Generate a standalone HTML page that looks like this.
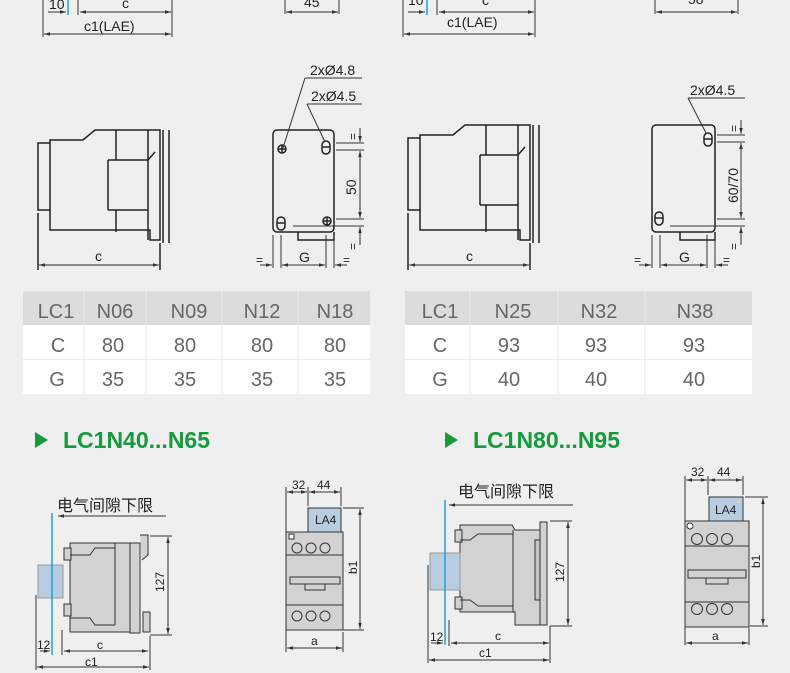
<!DOCTYPE html>
<html><head><meta charset="utf-8"><style>
html,body{margin:0;padding:0;background:#efefef;}
svg{display:block}
.t{font-family:"Liberation Sans","Noto Sans CJK SC",sans-serif;fill:#222}
.tb{font-family:"Liberation Sans",sans-serif;fill:#666;font-size:20px}
.g{font-family:"Liberation Sans",sans-serif;font-weight:bold;fill:#159a3c;font-size:23px}
</style></head><body>
<svg width="790" height="673" viewBox="0 0 790 673" xmlns="http://www.w3.org/2000/svg">
<defs>
<marker id="a" viewBox="0 0 10 10" refX="10" refY="5" markerWidth="6" markerHeight="6" orient="auto-start-reverse"><path d="M0,2 L10,5 L0,8 z" fill="#333"/></marker>
</defs>
<rect width="790" height="673" fill="#efefef"/>
<g stroke="#333" stroke-width="1" fill="none">
<line x1="43" y1="0" x2="43" y2="37"/><line x1="78" y1="0" x2="78" y2="15"/><line x1="172" y1="0" x2="172" y2="37"/>
<line x1="48" y1="12" x2="66" y2="12" marker-end="url(#a)"/>
<line x1="80" y1="12" x2="171" y2="12" marker-start="url(#a)" marker-end="url(#a)"/>
<line x1="44" y1="34" x2="171" y2="34" marker-start="url(#a)" marker-end="url(#a)"/>
<line x1="285" y1="0" x2="285" y2="14"/><line x1="339" y1="0" x2="339" y2="14"/>
<line x1="286" y1="12" x2="338" y2="12" marker-start="url(#a)" marker-end="url(#a)"/>
<line x1="403" y1="0" x2="403" y2="37"/><line x1="437" y1="0" x2="437" y2="15"/><line x1="535" y1="0" x2="535" y2="37"/>
<line x1="408" y1="12" x2="425" y2="12" marker-end="url(#a)"/>
<line x1="439" y1="12" x2="534" y2="12" marker-start="url(#a)" marker-end="url(#a)"/>
<line x1="404" y1="34" x2="534" y2="34" marker-start="url(#a)" marker-end="url(#a)"/>
<line x1="655" y1="0" x2="655" y2="14"/><line x1="738" y1="0" x2="738" y2="14"/>
<line x1="656" y1="12" x2="737" y2="12" marker-start="url(#a)" marker-end="url(#a)"/>
</g>
<line x1="68" y1="0" x2="68" y2="15" stroke="#1aa3e0" stroke-width="1.5"/>
<line x1="427" y1="0" x2="427" y2="15" stroke="#1aa3e0" stroke-width="1.5"/>
<g class="t" font-size="14">
<text x="49" y="9">10</text><text x="122" y="8">c</text><text x="84" y="31">c1(LAE)</text><text x="304" y="7">45</text>
<text x="408" y="5">10</text><text x="482" y="5">c</text><text x="447" y="27">c1(LAE)</text><text x="688" y="4">58</text>
</g>

<g stroke="#222" stroke-width="1.5" fill="none">
<path d="M50,140 H83 L95,130 H160 V240 H150 V230 H50 V210 H38 V143 H50 Z"/>
<line x1="50" y1="143" x2="50" y2="210"/>
<line x1="116" y1="130" x2="116" y2="160"/>
<path d="M108,160 H148 L155,152"/><line x1="108" y1="160" x2="108" y2="210"/>
<path d="M108,210 H148"/><line x1="116" y1="210" x2="116" y2="232"/>
<line x1="148" y1="130" x2="148" y2="240"/>
<line x1="163" y1="130" x2="163" y2="243"/><line x1="169" y1="130" x2="169" y2="243"/>
<line x1="38" y1="213" x2="38" y2="270"/><line x1="160" y1="243" x2="160" y2="270"/>
<line x1="39" y1="265" x2="159" y2="265" stroke-width="1" marker-start="url(#a)" marker-end="url(#a)"/>
<rect x="273" y="130" width="61" height="102" rx="4"/>
<path d="M298,232 V240 H334 V232"/>
<circle cx="282" cy="149" r="4"/><line x1="278" y1="149" x2="286" y2="149"/><line x1="282" y1="145" x2="282" y2="153"/>
<rect x="322" y="141" width="8" height="13" rx="4"/><line x1="322" y1="147" x2="330" y2="147"/>
<rect x="277" y="217" width="8" height="13" rx="4"/><line x1="277" y1="223" x2="285" y2="223"/>
<circle cx="327" cy="221" r="4"/><line x1="323" y1="221" x2="331" y2="221"/><line x1="327" y1="217" x2="327" y2="225"/>
<g stroke-width="1" stroke="#333">
<line x1="305" y1="78" x2="362" y2="78"/><line x1="305" y1="78" x2="283" y2="148"/>
<line x1="307" y1="104" x2="362" y2="104"/><line x1="307" y1="104" x2="325" y2="142"/>
<line x1="336" y1="143" x2="364" y2="143"/><line x1="336" y1="150" x2="364" y2="150"/>
<line x1="293" y1="226" x2="364" y2="226"/><line x1="336" y1="219" x2="364" y2="219"/>
<line x1="360" y1="151" x2="360" y2="218" marker-start="url(#a)" marker-end="url(#a)"/>
<line x1="360" y1="128" x2="360" y2="142" marker-end="url(#a)"/><line x1="360" y1="245" x2="360" y2="227" marker-end="url(#a)"/>
<line x1="273" y1="235" x2="273" y2="268"/><line x1="281" y1="235" x2="281" y2="268"/>
<line x1="326" y1="235" x2="326" y2="268"/><line x1="334" y1="235" x2="334" y2="268"/>
<line x1="260" y1="265" x2="272" y2="265" marker-end="url(#a)"/>
<line x1="282" y1="265" x2="325" y2="265" marker-start="url(#a)" marker-end="url(#a)"/>
<line x1="347" y1="265" x2="335" y2="265" marker-end="url(#a)"/>
</g>
</g>
<g class="t">
<text x="95" y="261" font-size="14">c</text>
<text x="310" y="75" font-size="14">2xØ4.8</text><text x="311" y="101" font-size="14">2xØ4.5</text>
<text x="299" y="262" font-size="14">G</text>
<text x="256" y="264" font-size="12">=</text><text x="343" y="264" font-size="12">=</text>
<text font-size="14" transform="translate(356,195) rotate(-90)">50</text>
<text font-size="12" transform="translate(357,140) rotate(-90)">=</text>
<text font-size="12" transform="translate(357,250) rotate(-90)">=</text>
</g>

<g stroke="#222" stroke-width="1.5" fill="none">
<path d="M420,135 H453 L465,125 H530 V240 H520 V230 H420 V210 H408 V138 H420 Z"/>
<line x1="420" y1="138" x2="420" y2="210"/>
<line x1="486" y1="125" x2="486" y2="155"/>
<path d="M480,155 H518 L525,147"/><line x1="480" y1="155" x2="480" y2="205"/>
<path d="M480,205 H518"/><line x1="486" y1="205" x2="486" y2="232"/>
<line x1="518" y1="125" x2="518" y2="240"/>
<line x1="533" y1="125" x2="533" y2="243"/><line x1="539" y1="125" x2="539" y2="243"/>
<line x1="408" y1="213" x2="408" y2="270"/><line x1="530" y1="243" x2="530" y2="270"/>
<line x1="409" y1="265" x2="529" y2="265" stroke-width="1" marker-start="url(#a)" marker-end="url(#a)"/>
<rect x="652" y="125" width="63" height="107" rx="4"/>
<path d="M680,232 V240 H715 V232"/>
<rect x="704" y="133" width="8" height="13" rx="4"/><line x1="704" y1="139" x2="712" y2="139"/>
<rect x="655" y="212" width="8" height="13" rx="4"/><line x1="655" y1="218" x2="663" y2="218"/>
<g stroke-width="1" stroke="#333">
<line x1="688" y1="98" x2="745" y2="98"/><line x1="688" y1="98" x2="706" y2="133"/>
<line x1="717" y1="135" x2="745" y2="135"/><line x1="717" y1="142" x2="745" y2="142"/>
<line x1="670" y1="226" x2="745" y2="226"/><line x1="717" y1="219" x2="745" y2="219"/>
<line x1="741" y1="143" x2="741" y2="218" marker-start="url(#a)" marker-end="url(#a)"/>
<line x1="741" y1="120" x2="741" y2="134" marker-end="url(#a)"/><line x1="741" y1="245" x2="741" y2="227" marker-end="url(#a)"/>
<line x1="652" y1="235" x2="652" y2="268"/><line x1="660" y1="235" x2="660" y2="268"/>
<line x1="707" y1="235" x2="707" y2="268"/><line x1="715" y1="235" x2="715" y2="268"/>
<line x1="639" y1="265" x2="651" y2="265" marker-end="url(#a)"/>
<line x1="661" y1="265" x2="706" y2="265" marker-start="url(#a)" marker-end="url(#a)"/>
<line x1="728" y1="265" x2="716" y2="265" marker-end="url(#a)"/>
</g>
</g>
<g class="t">
<text x="466" y="261" font-size="14">c</text>
<text x="690" y="95" font-size="14">2xØ4.5</text>
<text x="679" y="262" font-size="14">G</text>
<text x="634" y="264" font-size="12">=</text><text x="723" y="264" font-size="12">=</text>
<text font-size="14" transform="translate(738,203) rotate(-90)">60/70</text>
<text font-size="12" transform="translate(738,132) rotate(-90)">=</text>
<text font-size="12" transform="translate(738,250) rotate(-90)">=</text>
</g>

<rect x="23" y="291" width="347" height="34" fill="#dcdcdc"/>
<rect x="23" y="325" width="347" height="69" fill="#fff"/>
<g stroke="#eaeaea" stroke-width="1">
<line x1="84" y1="291" x2="84" y2="394"/><line x1="146" y1="291" x2="146" y2="394"/><line x1="222" y1="291" x2="222" y2="394"/><line x1="298" y1="291" x2="298" y2="394"/>
<line x1="23" y1="359.5" x2="370" y2="359.5"/>
</g>
<g class="tb" text-anchor="middle">
<text x="56" y="318">LC1</text><text x="115" y="318">N06</text><text x="189" y="318">N09</text><text x="262" y="318">N12</text><text x="335" y="318">N18</text>
<text x="58" y="352">C</text><text x="113" y="352">80</text><text x="185" y="352">80</text><text x="262" y="352">80</text><text x="335" y="352">80</text>
<text x="57" y="386">G</text><text x="113" y="386">35</text><text x="185" y="386">35</text><text x="262" y="386">35</text><text x="335" y="386">35</text>
</g>
<rect x="405" y="291" width="347" height="34" fill="#dcdcdc"/>
<rect x="405" y="325" width="347" height="69" fill="#fff"/>
<g stroke="#eaeaea" stroke-width="1">
<line x1="470" y1="291" x2="470" y2="394"/><line x1="558" y1="291" x2="558" y2="394"/><line x1="645" y1="291" x2="645" y2="394"/>
<line x1="405" y1="359.5" x2="752" y2="359.5"/>
</g>
<g class="tb" text-anchor="middle">
<text x="440" y="318">LC1</text><text x="513" y="318">N25</text><text x="599" y="318">N32</text><text x="695" y="318">N38</text>
<text x="440" y="352">C</text><text x="509" y="352">93</text><text x="596" y="352">93</text><text x="694" y="352">93</text>
<text x="440" y="386">G</text><text x="509" y="386">40</text><text x="596" y="386">40</text><text x="694" y="386">40</text>
</g>

<path d="M35,432 L48,440 L35,448 Z" fill="#159a3c"/>
<text class="g" x="63" y="448">LC1N40...N65</text>
<path d="M445,432 L458,440 L445,448 Z" fill="#159a3c"/>
<text class="g" x="473" y="448">LC1N80...N95</text>

<text class="t" x="57" y="511" font-size="16" fill="#444">电气间隙下限</text>
<line x1="166" y1="516" x2="58" y2="516" stroke="#333" marker-end="url(#a)"/>
<g stroke="#333" stroke-width="1">
<path d="M70,543 H130 V632 H70 Z" fill="#d2d2d2"/>
<rect x="64" y="548" width="7" height="12" fill="#d2d2d2"/><rect x="64" y="604" width="7" height="12" fill="#d2d2d2"/>
<line x1="115" y1="543" x2="115" y2="625"/>
<path d="M70,555 H90 L95,548 H115" fill="none"/><path d="M70,618 H90 L95,625 H115" fill="none"/>
<rect x="130" y="543" width="10" height="90" fill="#d2d2d2"/>
<path d="M140,535 H148 V555 L142,560" fill="#d2d2d2"/><rect x="143" y="612" width="7" height="20" fill="#d2d2d2"/>
<rect x="38" y="565" width="25" height="33" fill="#b8cde0" stroke="#999"/>
<line x1="150" y1="536" x2="172" y2="536"/><line x1="150" y1="635" x2="172" y2="635"/>
<line x1="168" y1="537" x2="168" y2="634" marker-start="url(#a)" marker-end="url(#a)"/>
<line x1="36" y1="595" x2="36" y2="670"/><line x1="62" y1="630" x2="62" y2="655"/><line x1="150" y1="636" x2="150" y2="670"/>
<line x1="40" y1="651" x2="50" y2="651" marker-end="url(#a)"/>
<line x1="64" y1="651" x2="148" y2="651" marker-start="url(#a)" marker-end="url(#a)"/>
<line x1="37" y1="667" x2="149" y2="667" marker-start="url(#a)" marker-end="url(#a)"/>
<rect x="308" y="508" width="33" height="24" fill="#b8cde0"/>
<rect x="286" y="532" width="57" height="98" fill="#d2d2d2"/>
<line x1="286" y1="555" x2="343" y2="555"/><line x1="286" y1="605" x2="343" y2="605"/>
<rect x="290" y="577" width="50" height="7" fill="#d2d2d2"/><rect x="305" y="584" width="20" height="6" fill="#d2d2d2"/>
<circle cx="297" cy="548" r="5" fill="#d2d2d2"/><circle cx="311" cy="548" r="5" fill="#d2d2d2"/><circle cx="325" cy="548" r="5" fill="#d2d2d2"/>
<circle cx="297" cy="616" r="5" fill="#d2d2d2"/><circle cx="311" cy="616" r="5" fill="#d2d2d2"/><circle cx="325" cy="616" r="5" fill="#d2d2d2"/>
<rect x="289" y="534" width="5" height="5" fill="#fff"/>
<line x1="286" y1="487" x2="286" y2="652"/><line x1="308" y1="487" x2="308" y2="506"/><line x1="341" y1="487" x2="341" y2="506"/><line x1="343" y1="632" x2="343" y2="652"/>
<line x1="287" y1="492" x2="307" y2="492" marker-start="url(#a)" marker-end="url(#a)"/>
<line x1="309" y1="492" x2="340" y2="492" marker-start="url(#a)" marker-end="url(#a)"/>
<line x1="287" y1="648" x2="342" y2="648" marker-start="url(#a)" marker-end="url(#a)"/>
<line x1="343" y1="508" x2="364" y2="508"/><line x1="343" y1="630" x2="364" y2="630"/>
<line x1="360" y1="509" x2="360" y2="629" marker-start="url(#a)" marker-end="url(#a)"/>
</g>
<line x1="52" y1="513" x2="52" y2="655" stroke="#1aa3e0" stroke-width="1.5"/>
<g class="t" font-size="12">
<text x="37" y="649">12</text><text x="97" y="649">c</text><text x="85" y="666">c1</text>
<text x="292" y="489">32</text><text x="317" y="489">44</text><text x="315" y="524">LA4</text><text x="311" y="645">a</text>
<text transform="translate(164,592) rotate(-90)">127</text>
<text transform="translate(357,574) rotate(-90)">b1</text>
</g>

<text class="t" x="458" y="497" font-size="16" fill="#444">电气间隙下限</text>
<line x1="573" y1="505" x2="449" y2="505" stroke="#333" marker-end="url(#a)"/>
<g stroke="#333" stroke-width="1">
<path d="M460,525 H512 L515,530 H540 V625 H515 V612 H460 Z" fill="#d2d2d2"/>
<rect x="455" y="530" width="7" height="12" fill="#d2d2d2"/><rect x="455" y="597" width="7" height="12" fill="#d2d2d2"/>
<line x1="513" y1="530" x2="513" y2="612"/>
<path d="M460,540 H470 L478,534 H513" fill="none"/><path d="M460,600 H470 L478,606 H513" fill="none"/>
<rect x="535" y="540" width="5" height="60" fill="#c5c5c5"/>
<rect x="540" y="522" width="7" height="103" fill="#d2d2d2"/>
<rect x="430" y="553" width="30" height="37" fill="#b8cde0" stroke="#999"/>
<line x1="550" y1="521" x2="572" y2="521"/><line x1="550" y1="626" x2="572" y2="626"/>
<line x1="568" y1="522" x2="568" y2="625" marker-start="url(#a)" marker-end="url(#a)"/>
<line x1="428" y1="565" x2="428" y2="663"/><line x1="449" y1="620" x2="449" y2="646"/><line x1="550" y1="626" x2="550" y2="663"/>
<line x1="431" y1="643" x2="443" y2="643" marker-end="url(#a)"/>
<line x1="451" y1="643" x2="549" y2="643" marker-start="url(#a)" marker-end="url(#a)"/>
<line x1="429" y1="660" x2="549" y2="660" marker-start="url(#a)" marker-end="url(#a)"/>
<rect x="709" y="497" width="34" height="24" fill="#b8cde0"/>
<rect x="685" y="521" width="64" height="106" fill="#d2d2d2"/>
<line x1="685" y1="546" x2="749" y2="546"/><line x1="685" y1="602" x2="749" y2="602"/>
<rect x="688" y="570" width="58" height="8" fill="#d2d2d2"/><rect x="706" y="578" width="22" height="6" fill="#d2d2d2"/>
<circle cx="697" cy="539" r="5.5" fill="#d2d2d2"/><circle cx="712" cy="539" r="5.5" fill="#d2d2d2"/><circle cx="727" cy="539" r="5.5" fill="#d2d2d2"/>
<circle cx="697" cy="609" r="5.5" fill="#d2d2d2"/><circle cx="712" cy="609" r="5.5" fill="#d2d2d2"/><circle cx="727" cy="609" r="5.5" fill="#d2d2d2"/>
<circle cx="690" cy="526" r="3" fill="#fff"/>
<line x1="685" y1="476" x2="685" y2="645"/><line x1="708" y1="476" x2="708" y2="495"/><line x1="743" y1="476" x2="743" y2="495"/><line x1="749" y1="628" x2="749" y2="645"/>
<line x1="686" y1="480" x2="707" y2="480" marker-start="url(#a)" marker-end="url(#a)"/>
<line x1="709" y1="480" x2="742" y2="480" marker-start="url(#a)" marker-end="url(#a)"/>
<line x1="686" y1="643" x2="748" y2="643" marker-start="url(#a)" marker-end="url(#a)"/>
<line x1="745" y1="497" x2="768" y2="497"/><line x1="750" y1="626" x2="768" y2="626"/>
<line x1="763" y1="498" x2="763" y2="625" marker-start="url(#a)" marker-end="url(#a)"/>
</g>
<line x1="445" y1="500" x2="445" y2="645" stroke="#1aa3e0" stroke-width="1.5"/>
<g class="t" font-size="12">
<text x="430" y="641">12</text><text x="495" y="640">c</text><text x="479" y="657">c1</text>
<text x="691" y="476">32</text><text x="717" y="476">44</text><text x="715" y="514">LA4</text><text x="712" y="640">a</text>
<text transform="translate(564,582) rotate(-90)">127</text>
<text transform="translate(760,568) rotate(-90)">b1</text>
</g>
</svg>
</body></html>
